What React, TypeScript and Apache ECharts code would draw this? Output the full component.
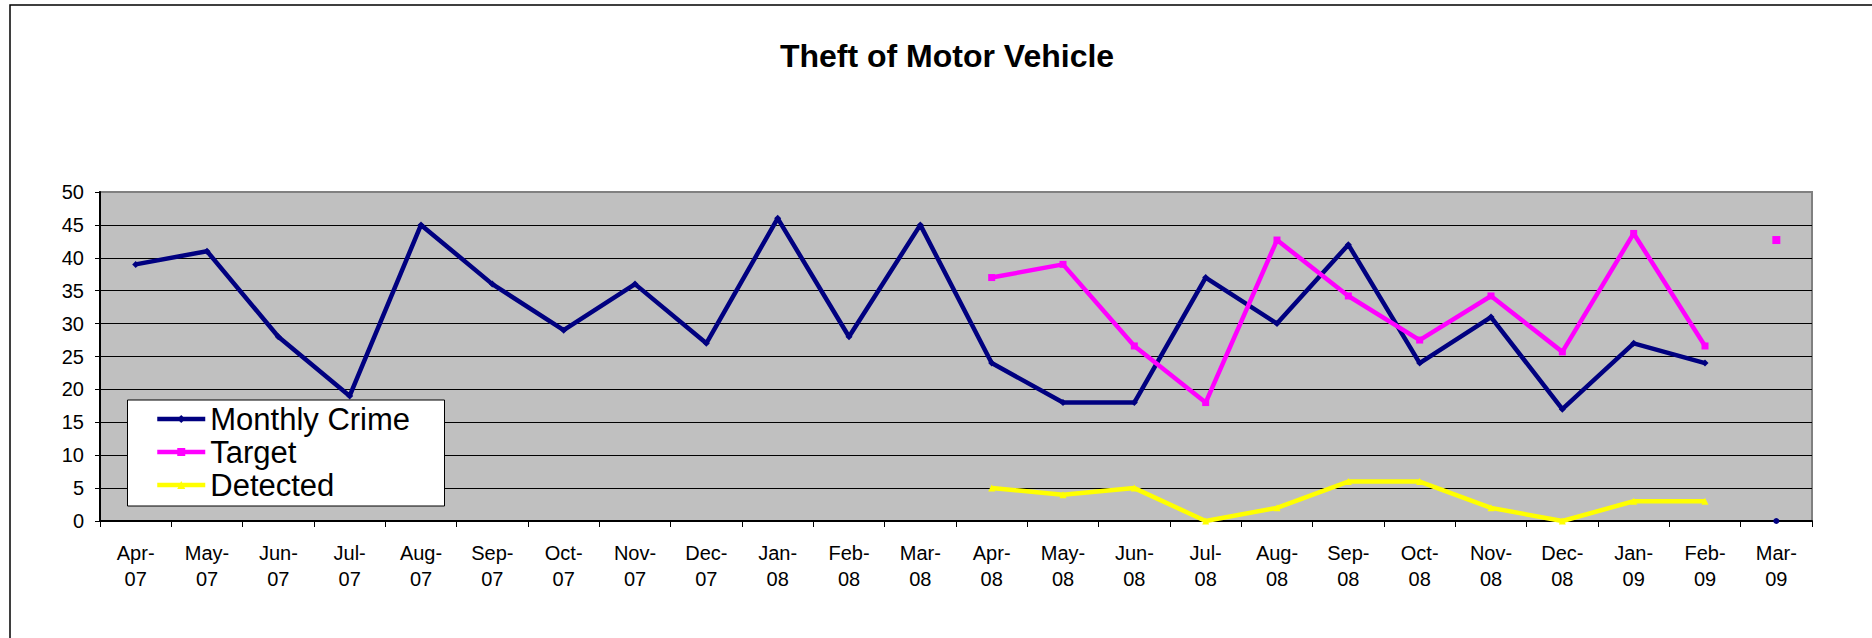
import React, { useEffect, useRef } from "react";
import * as echarts from "echarts";

const categories = [
  "Apr-07", "May-07", "Jun-07", "Jul-07", "Aug-07", "Sep-07", "Oct-07", "Nov-07",
  "Dec-07", "Jan-08", "Feb-08", "Mar-08", "Apr-08", "May-08", "Jun-08", "Jul-08",
  "Aug-08", "Sep-08", "Oct-08", "Nov-08", "Dec-08", "Jan-09", "Feb-09", "Mar-09",
];

const monthlyCrime = [39, 41, 28, 19, 45, 36, 29, 36, 27, 46, 28, 45, 24, 18, 18, 37, 30, 42, 24, 31, 17, 27, 24, 0];
const target = [null, null, null, null, null, null, null, null, null, null, null, null,
  37, 39, 26.6, 18, 42.7, 34.2, 27.5, 34.2, 25.7, 43.7, 26.6, 42.7];
const detected = [null, null, null, null, null, null, null, null, null, null, null, null,
  5, 4, 5, 0, 2, 6, 6, 2, 0, 3, 3, null];

// the last month is plotted as an unconnected point in the original
const lastIndex = categories.length - 1;
const lineOnly = (arr: (number | null)[]) => arr.map((v, i) => (i === lastIndex ? null : v));
const pointOnly = (arr: (number | null)[]) => arr.map((v, i) => (i === lastIndex ? v : null));

const FONT = "'Liberation Sans', Arial, sans-serif";
const NAVY = "#000080";
const MAGENTA = "#FF00FF";
const YELLOW = "#FFFF00";

export default function App() {
  const ref = useRef<HTMLDivElement>(null);
  useEffect(() => {
    if (!ref.current) return;
    const chart = echarts.init(ref.current, null, { renderer: "svg" });
    const lineSeries = (name: string, data: (number | null)[], color: string, symbol: string, size: number) => ({
      name,
      type: "line",
      data: lineOnly(data),
      symbol,
      symbolSize: size,
      showSymbol: true,
      color,
      lineStyle: { color, width: 4.5 },
      itemStyle: { color },
      connectNulls: false,
    });
    const pointSeries = (data: (number | null)[], color: string, symbol: string, size: number) => ({
      name: "_pt",
      type: "line",
      data: pointOnly(data),
      symbol,
      symbolSize: size,
      showSymbol: true,
      lineStyle: { width: 0 },
      itemStyle: { color },
    });
    chart.setOption({
      animation: false,
      backgroundColor: "#ffffff",
      textStyle: { fontFamily: FONT, color: "#000" },
      title: {
        text: "Theft of Motor Vehicle",
        left: 942,
        textAlign: "center",
        top: 35,
        textStyle: { fontFamily: FONT, fontSize: 32, fontWeight: "bold", color: "#000" },
      },
      legend: {
        data: ["Monthly Crime", "Target", "Detected"],
        orient: "vertical",
        left: 155,
        top: 402.5,
        padding: 0,
        itemGap: 0,
        itemWidth: 48,
        itemHeight: 10,
        lineStyle: { width: 4.5 },
        textStyle: { fontFamily: FONT, fontSize: 31, color: "#000", lineHeight: 33 },
      },
      graphic: [
        {
          type: "rect",
          shape: { x: 10, y: 5, width: 2000, height: 1000 },
          style: { fill: "none", stroke: "#000", lineWidth: 1.5 },
          silent: true,
          z: -10,
        },
        {
          type: "rect",
          shape: { x: 127.5, y: 400, width: 317, height: 106 },
          style: { fill: "#ffffff", stroke: "#000", lineWidth: 1 },
          silent: true,
          z: 4,
        },
      ],
      grid: {
        left: 100,
        top: 192,
        right: 60,
        bottom: 117,
        show: true,
        backgroundColor: "#C0C0C0",
        borderColor: "#808080",
        borderWidth: 2,
      },
      xAxis: {
        type: "category",
        data: categories,
        boundaryGap: true,
        axisLine: { show: true, lineStyle: { color: "#000", width: 2 } },
        axisTick: { show: true, alignWithLabel: false, length: 6, lineStyle: { color: "#000", width: 1 } },
        axisLabel: {
          interval: 0,
          margin: 19,
          fontFamily: FONT,
          fontSize: 20,
          lineHeight: 26,
          color: "#000",
          formatter: (v: string) => v.replace("-", "-\n"),
        },
        splitLine: { show: false },
      },
      yAxis: {
        type: "value",
        min: 0,
        max: 50,
        interval: 5,
        axisLine: { show: true, lineStyle: { color: "#000", width: 2 } },
        axisTick: { show: true, length: 5, lineStyle: { color: "#000", width: 1 } },
        axisLabel: { margin: 16, fontFamily: FONT, fontSize: 20, color: "#000" },
        splitLine: { show: true, showMinLine: false, showMaxLine: false, lineStyle: { color: "#000", width: 1 } },
      },
      series: [
        lineSeries("Monthly Crime", monthlyCrime, NAVY, "diamond", 7),
        lineSeries("Target", target, MAGENTA, "rect", 7),
        lineSeries("Detected", detected, YELLOW, "triangle", 7),
        pointSeries(monthlyCrime, NAVY, "circle", 6),
        pointSeries(target, MAGENTA, "rect", 8),
      ],
    });
    return () => chart.dispose();
  }, []);
  return (
    <div
      ref={ref}
      style={{ position: "fixed", left: 0, top: 0, width: 1872, height: 638 }}
    />
  );
}
